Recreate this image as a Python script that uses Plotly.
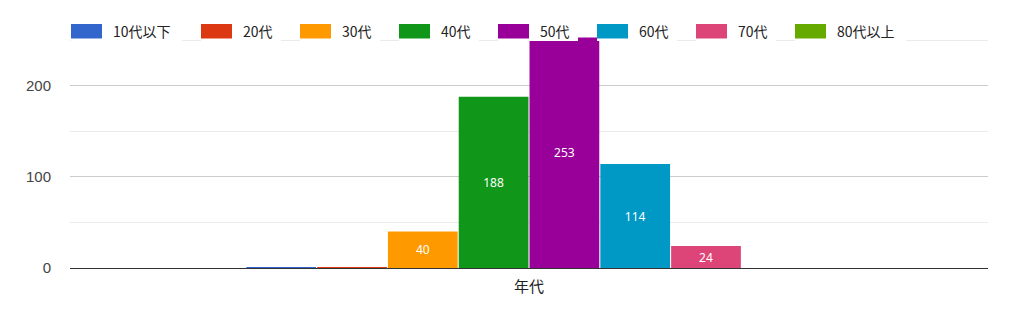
import plotly.graph_objects as go

categories = ["年代"]
series_names = ["10代以下", "20代", "30代", "40代", "50代", "60代", "70代", "80代以上"]
series_values = [1, 1, 40, 188, 253, 114, 24, 0]
colors = ["#3366CC", "#DC3912", "#FF9900", "#109618", "#990099", "#0099C6", "#DD4477", "#66AA00"]
y_ticks = [0, 100, 200]

# plot area geometry (pixels)
L, R, T, B = 70, 36, 31, 55
W, H = 1024, 323
PW, PH = W - L - R, H - T - B


def px(x):
    return (x - L) / PW


def py(y):
    return (H - B - y) / PH


fig = go.Figure()
for name, val, col in zip(series_names, series_values, colors):
    fig.add_trace(go.Bar(
        x=categories, y=[val], name=name,
        marker=dict(color=col, line=dict(width=0)),
        text=[str(val) if val >= 10 else ""],
        textposition="inside", insidetextanchor="middle", textangle=0,
        constraintext="none",
        textfont=dict(color="white", size=12, family="Noto Sans, Arial"),
        hoverinfo="skip", showlegend=False,
    ))

# custom legend (wide swatches with white item backgrounds, like the original)
shapes, annotations = [], []
x = 71
for name, col in zip(series_names, colors):
    tw = 63 if len(name) > 3 else 32
    shapes.append(dict(type="rect", xref="paper", yref="paper", layer="above",
                       x0=px(x), x1=px(x + 41 + tw + 7), y0=py(41), y1=py(21),
                       fillcolor="white", line=dict(width=0)))
    shapes.append(dict(type="rect", xref="paper", yref="paper", layer="above",
                       x0=px(x), x1=px(x + 31), y0=py(38.5), y1=py(24),
                       fillcolor=col, line=dict(width=0)))
    annotations.append(dict(text=name, xref="paper", yref="paper", x=px(x + 40), y=py(31.5),
                            xanchor="left", yanchor="middle", showarrow=False,
                            font=dict(size=14, color="#222222",
                                      family="Noto Sans CJK JP, Noto Sans, Arial")))
    x += 41 + tw + 7 + 19

fig.update_layout(
    width=W, height=H,
    margin=dict(l=L, r=R, t=T, b=B),
    paper_bgcolor="white", plot_bgcolor="white",
    barmode="group", bargap=0.383, bargroupgap=0.015,
    showlegend=False,
    shapes=shapes, annotations=annotations,
    font=dict(family="Liberation Sans, Arial", color="#444444"),
    xaxis=dict(showgrid=False, showline=False, ticks="", ticklabelstandoff=8,
               tickfont=dict(size=15, color="#222222",
                             family="Noto Sans CJK JP, Noto Sans, Arial")),
    yaxis=dict(range=[0, 260], tickvals=y_ticks, showgrid=True, gridcolor="#cccccc",
               gridwidth=1, zeroline=True, zerolinecolor="#333333", zerolinewidth=1,
               tickfont=dict(size=15, color="#444444"), ticklabelstandoff=18,
               minor=dict(tickvals=[50, 150, 250], showgrid=True, gridcolor="#ebebeb", ticks="")),
)

fig.write_html("out.html")
